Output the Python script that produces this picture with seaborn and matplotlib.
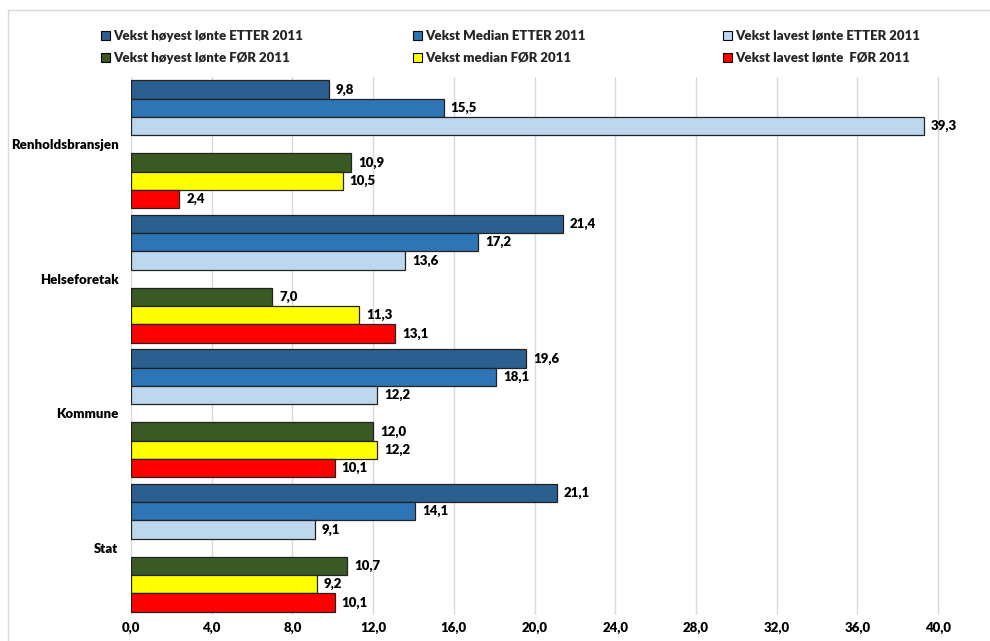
import matplotlib
matplotlib.use("Agg")
import matplotlib.pyplot as plt
from matplotlib.patches import Patch, Rectangle
import numpy as np
import pandas as pd
import seaborn as sns

# --- data -------------------------------------------------------------
categories = ["Renholdsbransjen", "Helseforetak", "Kommune", "Stat"]

series_names = [
    "Vekst høyest lønte ETTER 2011",
    "Vekst Median ETTER 2011",
    "Vekst lavest lønte ETTER 2011",
    "Vekst høyest lønte FØR 2011",
    "Vekst median FØR 2011",
    "Vekst lavest lønte  FØR 2011",
]

hoyest_etter = [9.8, 21.4, 19.6, 21.1]
median_etter = [15.5, 17.2, 18.1, 14.1]
lavest_etter = [39.3, 13.6, 12.2, 9.1]
hoyest_for = [10.9, 7.0, 12.0, 10.7]
median_for = [10.5, 11.3, 12.2, 9.2]
lavest_for = [2.4, 13.1, 10.1, 10.1]

x_ticks = [0, 4, 8, 12, 16, 20, 24, 28, 32, 36, 40]

colors = ["#2A5F8F", "#2E75B6", "#BDD7EE", "#3A5A24", "#FFFF00", "#FF0000"]

# an empty slot separates the ETTER and FØR bars inside each group
spacer = " "
hue_order = series_names[:3] + [spacer] + series_names[3:]
palette = dict(zip(series_names, colors))
palette[spacer] = "#FFFFFF"

values = [hoyest_etter, median_etter, lavest_etter,
          hoyest_for, median_for, lavest_for]
rows = []
for name, vals in zip(series_names, values):
    for cat, v in zip(categories, vals):
        rows.append({"Kategori": cat, "Serie": name, "Verdi": v})
for cat in categories:
    rows.append({"Kategori": cat, "Serie": spacer, "Verdi": np.nan})
df = pd.DataFrame(rows)

# --- figure -----------------------------------------------------------
sns.set_theme(style="white")
plt.rcParams["font.family"] = ["Lato", "DejaVu Sans"]
WEIGHT = "heavy"
plt.rcParams["font.weight"] = WEIGHT

W, H = 990, 641
fig = plt.figure(figsize=(W / 100, H / 100), dpi=100)
fig.patch.set_facecolor("white")

# light chart-area frame
fig.add_artist(Rectangle((8 / W, -0.1), 1.2, (H - 10) / H + 0.1,
                         transform=fig.transFigure, fill=False,
                         edgecolor="#D9D9D9", linewidth=1.0))

ax = fig.add_axes([131 / W, 1 - 615 / H, (988 - 131) / W, (615 - 77) / H])

sns.barplot(data=df, y="Kategori", x="Verdi", hue="Serie",
            order=categories, hue_order=hue_order, palette=palette,
            orient="h", width=0.95, dodge=True, errorbar=None,
            edgecolor="#222222", linewidth=0.9, saturation=1,
            legend=False, ax=ax)

for c in ax.containers:
    vals = c.datavalues
    labels = ["" if np.isnan(v) else f"{v:.1f}".replace(".", ",") for v in vals]
    ax.bar_label(c, labels=labels, padding=5, fontsize=9.5,
                 fontweight=WEIGHT, color="black")

ax.set_xlim(0, (988 - 131) / ((938 - 131) / 40))
ax.set_xticks(x_ticks)
ax.set_xticklabels([f"{t:.1f}".replace(".", ",") for t in x_ticks],
                   fontsize=9.5, fontweight=WEIGHT)
ax.tick_params(axis="x", length=0, pad=5, colors="black")
ax.tick_params(axis="y", length=0, pad=9, colors="black", labelsize=9.5)
for lab in ax.get_yticklabels():
    lab.set_fontweight(WEIGHT)
ax.set_xlabel("")
ax.set_ylabel("")
ax.grid(axis="x", color="#D9D9D9", linewidth=1.0)
ax.set_axisbelow(True)
for s in ax.spines.values():
    s.set_visible(False)

# legend in three columns of two rows
col_x = [101, 413, 723]
for i, x0 in enumerate(col_x):
    handles = [Patch(facecolor=colors[i], edgecolor="black", linewidth=0.8,
                     label=series_names[i]),
               Patch(facecolor=colors[i + 3], edgecolor="black", linewidth=0.8,
                     label=series_names[i + 3])]
    fig.legend(handles=handles, loc="upper left",
               bbox_to_anchor=(x0 / W, 1 - 30 / H), frameon=False,
               prop={"size": 9.5, "weight": WEIGHT},
               handlelength=0.65, handleheight=0.65, handletextpad=0.3,
               labelspacing=0.75, borderpad=0, borderaxespad=0)

fig.savefig("out.png", dpi=100, facecolor="white")
